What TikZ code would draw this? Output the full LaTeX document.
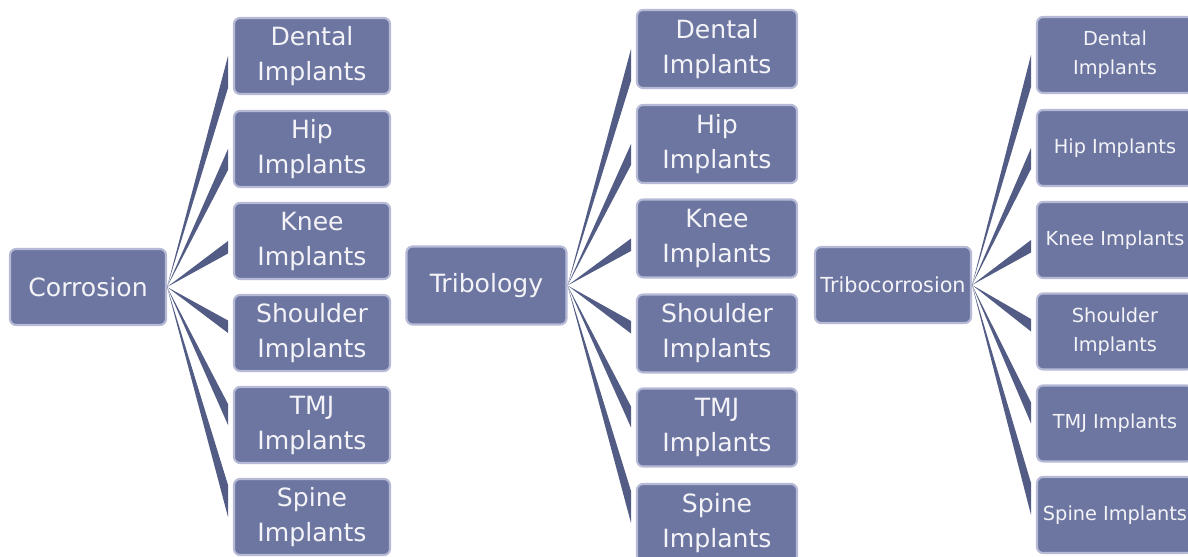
\documentclass[tikz,border=0pt]{standalone}
\usepackage{fontspec}
\setsansfont{DejaVu Sans}
\usepackage{xcolor}
\usetikzlibrary{positioning,backgrounds}
\definecolor{BMFill}{HTML}{6C76A1}
\definecolor{BMEdge}{HTML}{B6BAD6}
\definecolor{BMSpoke}{HTML}{525C84}
\definecolor{BMText}{HTML}{F4F4F8}

\begin{document}
\begin{tikzpicture}[
  x=0.02cm,
  y=0.02cm,
  box/.style={
    rectangle,
    rounded corners=0.12cm,
    draw=BMEdge,
    line width=1.2pt,
    fill=BMFill,
    text=BMText,
    align=center,
    inner xsep=0.05cm,
    minimum width=3.12cm,
    minimum height=1.52cm
  },
  rootbox/.style={box, font=\sffamily\fontsize{14.3}{19.9}\selectfont},
  leafbox/.style={box, outer xsep=0.12cm, font=\sffamily\fontsize{14.3}{19.9}\selectfont},
  widebox/.style={minimum width=3.2cm, minimum height=1.56cm},
  smallbox/.style={font=\sffamily\fontsize{11}{16.5}\selectfont},
  spoke/.style={fill=BMSpoke, to path={-- (\tikztotarget) -- ([yshift=#1]\tikztotarget) -- cycle}},
]
\useasboundingbox (0,0) rectangle (1188,557);
\clip (0,0) rectangle (1188,557);

% Corrosion
\node[rootbox] (corrosion) at (88,270) {Corrosion};
\node[leafbox] (corrosion-dental) at (312,501) {Dental\\Implants};
\node[leafbox] (corrosion-hip) at (312,408) {Hip\\Implants};
\node[leafbox] (corrosion-knee) at (312,316) {Knee\\Implants};
\node[leafbox] (corrosion-shoulder) at (312,224) {Shoulder\\Implants};
\node[leafbox] (corrosion-tmj) at (312,132) {TMJ\\Implants};
\node[leafbox] (corrosion-spine) at (312,40) {Spine\\Implants};

% Tribology
\node[rootbox,widebox] (tribology) at (486.5,271.5) {Tribology};
\node[leafbox,widebox] (tribology-dental) at (717,508) {Dental\\Implants};
\node[leafbox,widebox] (tribology-hip) at (717,413) {Hip\\Implants};
\node[leafbox,widebox] (tribology-knee) at (717,318.5) {Knee\\Implants};
\node[leafbox,widebox] (tribology-shoulder) at (717,223.5) {Shoulder\\Implants};
\node[leafbox,widebox] (tribology-tmj) at (717,129.5) {TMJ\\Implants};
\node[leafbox,widebox] (tribology-spine) at (717,34) {Spine\\Implants};

% Tribocorrosion
\node[rootbox,font=\sffamily\fontsize{11.8}{16.5}\selectfont] (tribocorrosion) at (893,272) {Tribocorrosion};
\node[leafbox,smallbox] (tribocorrosion-dental) at (1115,502) {Dental\\Implants};
\node[leafbox,smallbox] (tribocorrosion-hip) at (1115,409) {Hip Implants};
\node[leafbox,smallbox] (tribocorrosion-knee) at (1115,317) {Knee Implants};
\node[leafbox,smallbox] (tribocorrosion-shoulder) at (1115,225.5) {Shoulder\\Implants};
\node[leafbox,smallbox] (tribocorrosion-tmj) at (1115,133.5) {TMJ Implants};
\node[leafbox,smallbox] (tribocorrosion-spine) at (1115,42) {Spine Implants};

\begin{scope}[on background layer]
  \path[spoke=-0.64cm] (corrosion.east) to (corrosion-dental.west);
  \path[spoke=-0.42cm] (corrosion.east) to (corrosion-hip.west);
  \path[spoke=-0.25cm] (corrosion.east) to (corrosion-knee.west);
  \path[spoke=0.25cm] (corrosion.east) to (corrosion-shoulder.west);
  \path[spoke=0.42cm] (corrosion.east) to (corrosion-tmj.west);
  \path[spoke=0.64cm] (corrosion.east) to (corrosion-spine.west);

  \path[spoke=-0.64cm] (tribology.east) to (tribology-dental.west);
  \path[spoke=-0.42cm] (tribology.east) to (tribology-hip.west);
  \path[spoke=-0.25cm] (tribology.east) to (tribology-knee.west);
  \path[spoke=0.25cm] (tribology.east) to (tribology-shoulder.west);
  \path[spoke=0.42cm] (tribology.east) to (tribology-tmj.west);
  \path[spoke=0.64cm] (tribology.east) to (tribology-spine.west);

  \path[spoke=-0.64cm] (tribocorrosion.east) to (tribocorrosion-dental.west);
  \path[spoke=-0.42cm] (tribocorrosion.east) to (tribocorrosion-hip.west);
  \path[spoke=-0.25cm] (tribocorrosion.east) to (tribocorrosion-knee.west);
  \path[spoke=0.25cm] (tribocorrosion.east) to (tribocorrosion-shoulder.west);
  \path[spoke=0.42cm] (tribocorrosion.east) to (tribocorrosion-tmj.west);
  \path[spoke=0.64cm] (tribocorrosion.east) to (tribocorrosion-spine.west);
\end{scope}
\end{tikzpicture}
\end{document}
